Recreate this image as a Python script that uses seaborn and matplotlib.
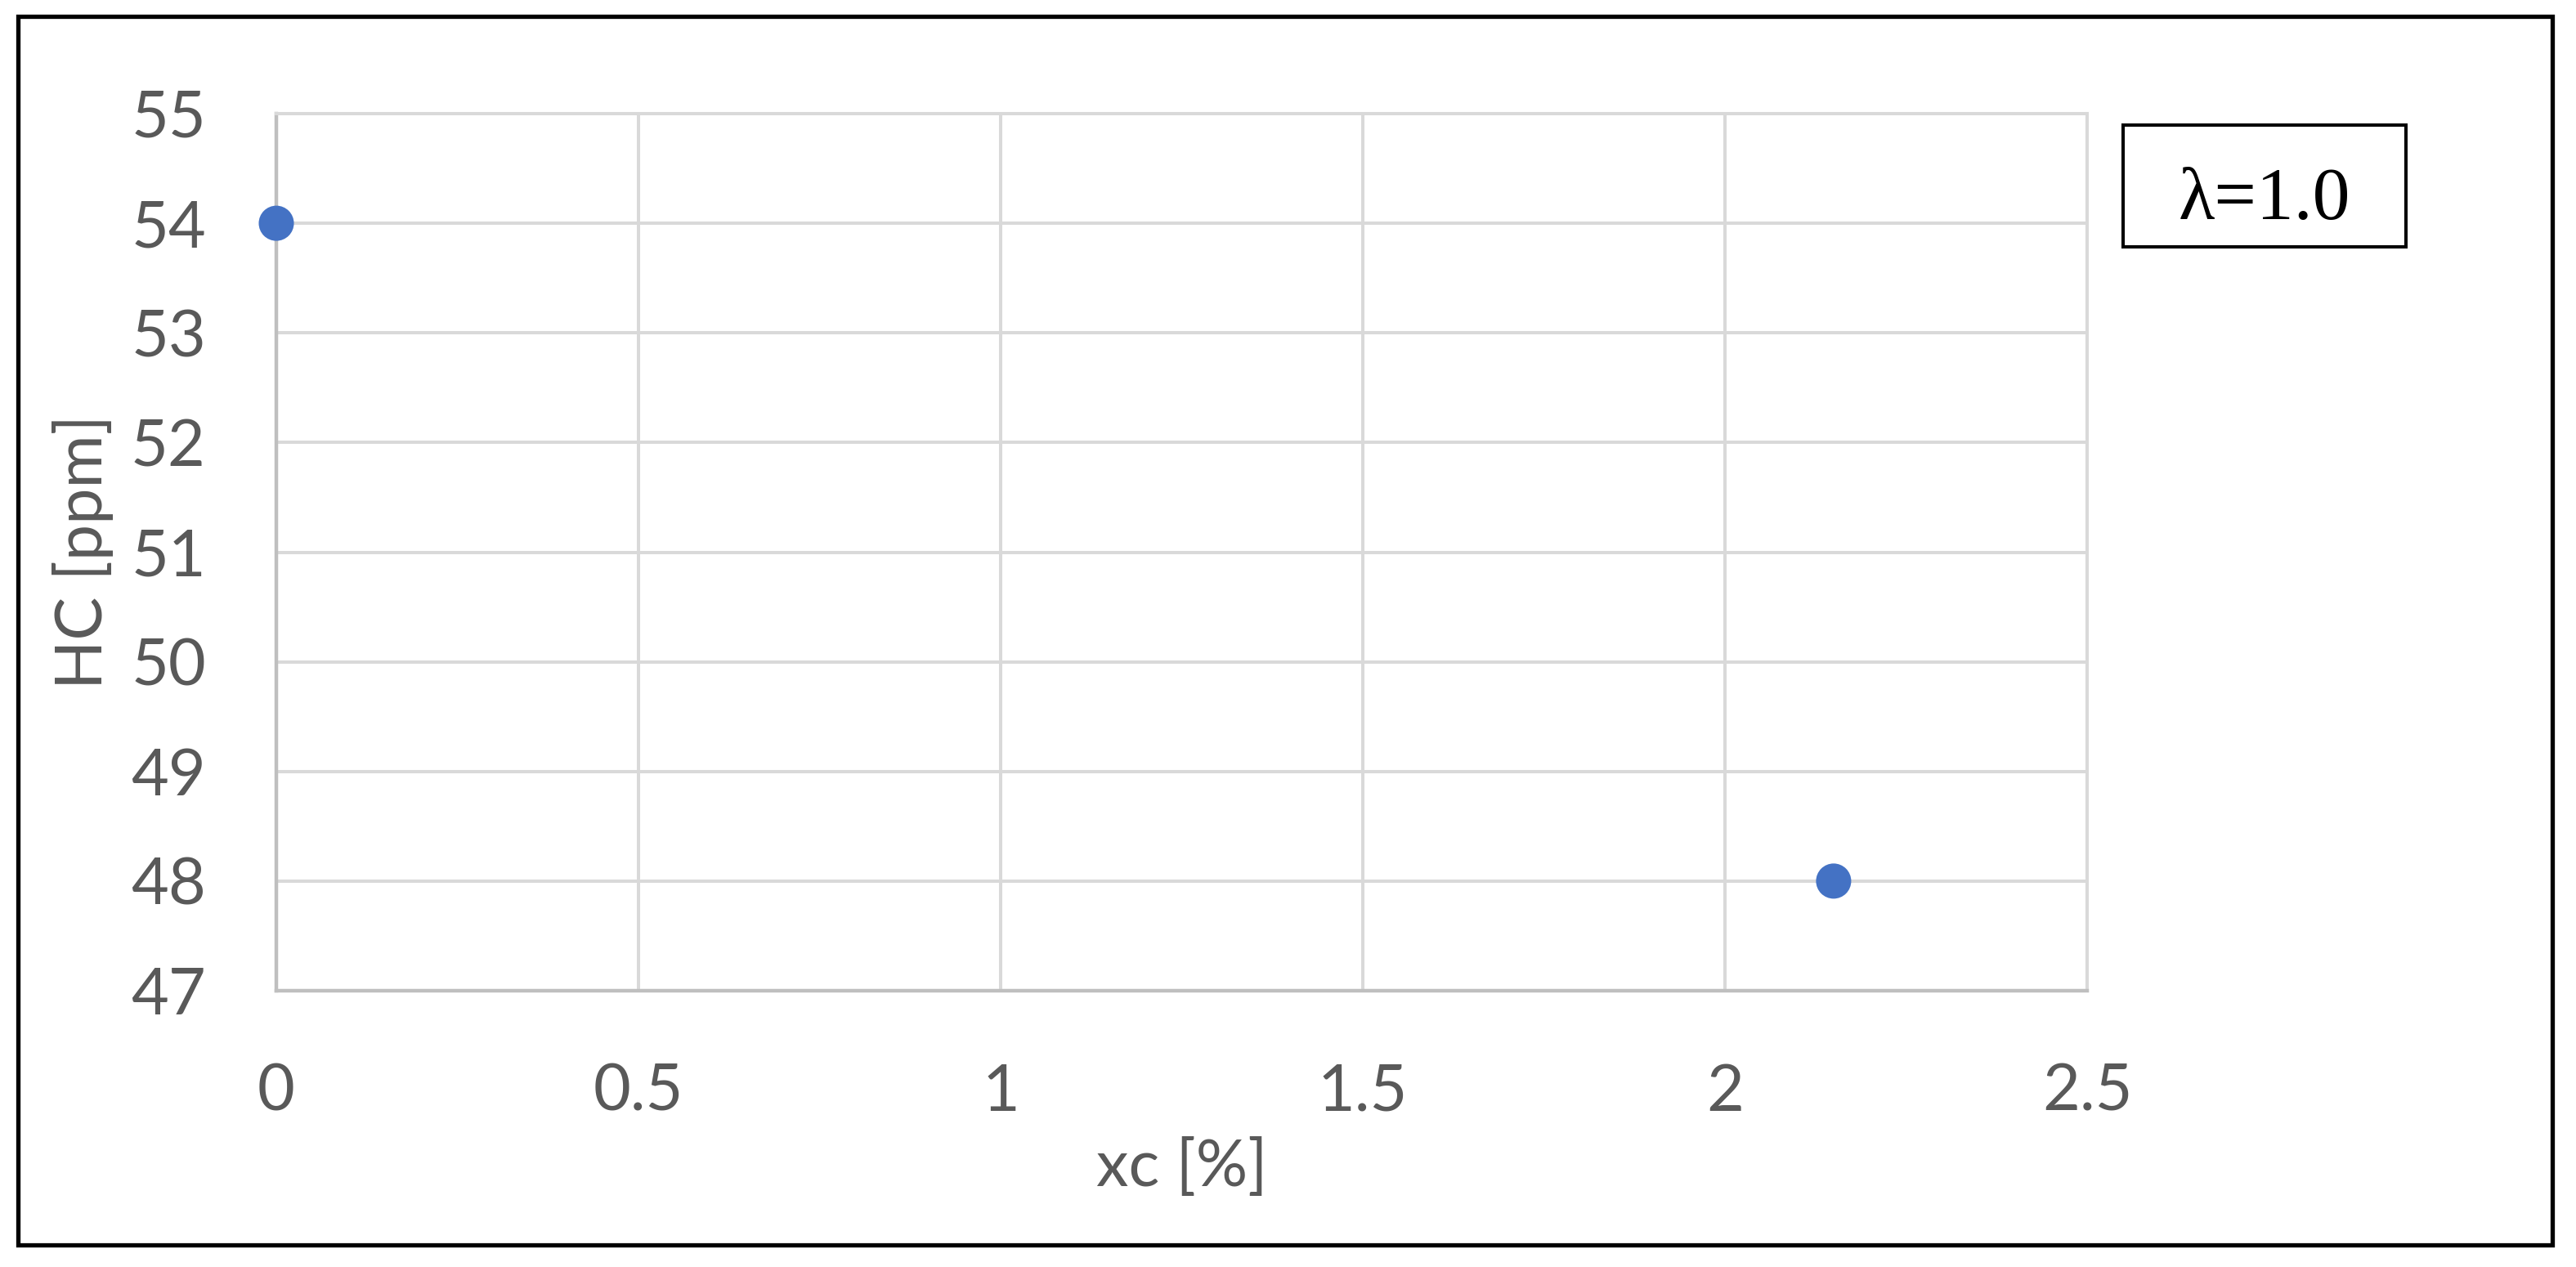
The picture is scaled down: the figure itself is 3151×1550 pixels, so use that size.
import matplotlib
matplotlib.use("Agg")
import matplotlib.pyplot as plt
import matplotlib.patches as mpatches
import matplotlib.ticker as mticker
import seaborn as sns
import pandas as pd

# Dados
xc = [0.0, 2.15]
hc = [54.0, 48.0]
x_ticks = [0, 0.5, 1, 1.5, 2, 2.5]
y_ticks = [47, 48, 49, 50, 51, 52, 53, 54, 55]
lambda_label = "λ=1.0"

W, H = 3151, 1550


def plot_scatter(df: pd.DataFrame, save_path: str = "out.png"):
    sns.set_theme(style="whitegrid")
    plt.rcParams["font.family"] = ["Lato", "DejaVu Sans"]

    fig = plt.figure(figsize=(W / 100, H / 100), dpi=100)
    # área do gráfico em pixels: x 338-2553, y 139-1212
    ax = fig.add_axes([338 / W, 1 - 1212 / H, (2553 - 338) / W, (1212 - 139) / H])

    sns.scatterplot(data=df, x="xc", y="hc", ax=ax, s=960, color="#4472C4",
                    edgecolor="none", linewidth=0, zorder=5, clip_on=False)

    ax.set_xlim(x_ticks[0], x_ticks[-1])
    ax.set_ylim(y_ticks[0], y_ticks[-1])
    ax.set_xticks(x_ticks)
    ax.set_yticks(y_ticks)
    ax.xaxis.set_major_formatter(mticker.FuncFormatter(lambda v, p: f"{v:g}"))

    ax.grid(True, color="#d9d9d9", linewidth=2.9)
    ax.set_axisbelow(True)
    for side in ["left", "bottom"]:
        ax.spines[side].set_color("#bfbfbf")
        ax.spines[side].set_linewidth(3.2)
    for side in ["top", "right"]:
        ax.spines[side].set_color("#d9d9d9")
        ax.spines[side].set_linewidth(2.9)

    ax.tick_params(axis="both", length=0, labelsize=57, labelcolor="#595959")
    ax.tick_params(axis="x", pad=64)
    ax.tick_params(axis="y", pad=62)

    ax.set_xlabel("xc [%]", fontsize=57, color="#595959", labelpad=14)
    ax.set_ylabel("HC [ppm]", fontsize=57, color="#595959", labelpad=15)

    # caixa com o valor de lambda
    bx0, bx1, by0, by1 = 2597, 2943, 153, 302
    fig.patches.append(mpatches.Rectangle(
        (bx0 / W, 1 - by1 / H), (bx1 - bx0) / W, (by1 - by0) / H,
        transform=fig.transFigure, fill=False, edgecolor="black", linewidth=2.9))
    fig.text((bx0 + bx1) / 2 / W, 1 - 268 / H, lambda_label, ha="center", va="baseline",
             fontsize=66, color="black", family=["Liberation Serif", "DejaVu Serif"])

    # moldura externa
    fig.patches.append(mpatches.Rectangle(
        (22 / W, 1 - 1523 / H), (3122 - 22) / W, (1523 - 20) / H,
        transform=fig.transFigure, fill=False, edgecolor="black", linewidth=3.8))

    fig.savefig(save_path, dpi=100)
    plt.close(fig)


if __name__ == "__main__":
    df_plot = pd.DataFrame({"xc": xc, "hc": hc})
    plot_scatter(df_plot)
